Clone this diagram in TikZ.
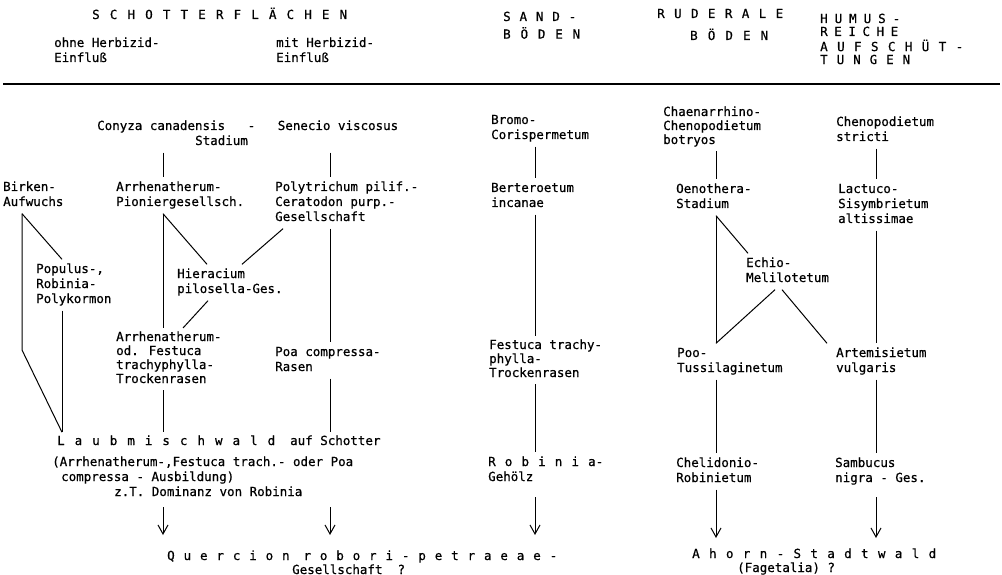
\documentclass[tikz,border=0pt]{standalone}
\usepackage{fontspec}
\setmainfont{DejaVu Sans Mono}
\newfontfamily\tw{DejaVu Sans Mono}[FakeBold=0.6]
\usetikzlibrary{arrows.meta}
\newcommand\lsitems[1]{\lsfirst#1\relax}
\def\lsfirst#1{#1\lsnext}
\def\lsnext#1{\ifx\relax#1\else\hfill#1\expandafter\lsnext\fi}
\newcommand\spread[2]{\makebox[#1][l]{\lsitems{#2}}}
\newcommand\lines[1]{\begin{tabular}[t]{@{}l@{}}#1\end{tabular}}
\begin{document}
\begin{tikzpicture}[x=1pt,y=-1pt,
  every node/.style={inner xsep=0pt, inner ysep=3pt, anchor=base west,
    font=\tw\fontsize{12.5}{15}\selectfont},
  tight/.style={font=\tw\fontsize{12.5}{14}\selectfont},
  humus/.style={font=\tw\fontsize{12.5}{12.3}\selectfont},
  ln/.style={line width=1pt},
  arr/.style={line width=1pt, -{Straight Barb[length=9pt,width=10pt]}, shorten >=12pt}]
\fill[white] (0,0) rectangle (1002,575);
\useasboundingbox (0,0) rectangle (1002,575);
% header
\node (head) at (92,19) {\spread{255pt}{SCHOTTERFLÄCHEN}};
\node (ohne) at (54,47) {\lines{ohne Herbizid-\\Einfluß}};
\node (mit) at (276,47) {\lines{mit Herbizid-\\Einfluß}};
\node (sand) at (503,21) [tight] {\lines{\spread{73pt}{SAND-}\\[2pt]\spread{77pt}{BÖDEN}}};
\node (rud) at (657,18) {\spread{126pt}{RUDERALE}};
\node (rudb) at (690,40) {\spread{78pt}{BÖDEN}};
\node (humus) at (820,23) [humus] {\lines{\spread{80pt}{HUMUS-}\\\spread{78pt}{REICHE}\\\spread{143pt}{AUFSCHÜT-}\\\spread{90pt}{TUNGEN}}};
\draw[line width=1.3pt] (3,84) -- (1000,84);
% left group
\node (conyza) at (97,130) {\lines{Conyza canadensis\ \ \ -\ \ \ Senecio viscosus\\\hspace*{98pt}Stadium}};
\node (birken) at (3,191) {\lines{Birken-\\Aufwuchs}};
\node (arrh) at (116,191) {\lines{Arrhenatherum-\\Pioniergesellsch.}};
\node (poly) at (275,191) {\lines{Polytrichum pilif.-\\Ceratodon purp.-\\Gesellschaft}};
\node (populus) at (36,273) {\lines{Populus-,\\Robinia-\\Polykormon}};
\node (hier) at (177,278) {\lines{Hieracium\\pilosella-Ges.}};
\node (arrhod) at (116,341) [tight] {\lines{Arrhenatherum-\\od. Festuca\\trachyphylla-\\Trockenrasen}};
\node (poa) at (275,356) {\lines{Poa compressa-\\Rasen}};
\node (laub) at (57,445) {\spread{218pt}{Laubmischwald}\hspace{15pt}auf Schotter};
\node (laubsub) at (52,466) {\lines{(Arrhenatherum-,Festuca trach.- oder Poa\\\hspace*{9pt}compressa - Ausbildung)\\\hspace*{62pt}z.T. Dominanz von Robinia}};
% sand column
\node (bromo) at (491,124) {\lines{Bromo-\\Corispermetum}};
\node (bert) at (491,192) {\lines{Berteroetum\\incanae}};
\node (fest) at (489,349) [tight] {\lines{Festuca trachy-\\phylla-\\Trockenrasen}};
\node (rob) at (488,466) {\lines{\spread{115pt}{Robini{a-}}\\Gehölz}};
% ruderal column
\node (chaen) at (663,116) [tight] {\lines{Chaenarrhino-\\Chenopodietum\\botryos}};
\node (oeno) at (676,193) {\lines{Oenothera-\\Stadium}};
\node (echio) at (746,267) {\lines{Echio-\\Melilotetum}};
\node (poo) at (677,357) {\lines{Poo-\\Tussilaginetum}};
\node (chel) at (676,467) {\lines{Chelidonio-\\Robinietum}};
% humus column
\node (cheno) at (836,126) {\lines{Chenopodietum\\stricti}};
\node (lact) at (838,193) {\lines{Lactuco-\\Sisymbrietum\\altissimae}};
\node (art) at (836,357) {\lines{Artemisietum\\vulgaris}};
\node (samb) at (835,467) {\lines{Sambucus\\nigra - Ges.}};
% final communities
\node (querc) at (167,560) [tight] {\lines{\spread{390pt}{Querci{o}{n\kern5pt}robori-petraeae-}\\\hspace*{125pt}Gesellschaft\ \ ?}};
\node (ahorn) at (692,558) [tight] {\lines{\spread{244pt}{Ahorn-Stadtwald}\\\hspace*{45pt}(Fagetalia) ?}};
% connectors left
\draw[ln] (163,0 |- conyza.south) -- (163,0 |- arrh.north);
\draw[ln] (330,0 |- conyza.south) -- (330,0 |- poly.north);
\draw[ln] (22,0 |- birken.south) -- (62,0 |- populus.north);
\draw[ln] (22,0 |- birken.south) -- (22,350) -- (62,0 |- laub.north);
\draw[ln] (62,0 |- populus.south) -- (62,0 |- laub.north);
\draw[ln] (163,0 |- arrh.south) -- (207,0 |- hier.north);
\draw[ln] (163,0 |- arrh.south) -- (163,0 |- arrhod.north);
\draw[ln] (283,0 |- poly.south) -- (242,0 |- hier.north);
\draw[ln] (330,0 |- poly.south) -- (330,0 |- poa.north);
\draw[ln] (208,0 |- hier.south) -- (183,0 |- arrhod.north);
\draw[ln] (163,0 |- arrhod.south) -- (163,0 |- laub.north);
\draw[ln] (330,0 |- poa.south) -- (330,0 |- laub.north);
% connectors sand
\draw[ln] (535,0 |- bromo.south) -- (535,0 |- bert.north);
\draw[ln] (535,0 |- bert.south) -- (535,0 |- fest.north);
\draw[ln] (535,0 |- fest.south) -- (535,0 |- rob.north);
% connectors ruderal
\draw[ln] (716,0 |- chaen.south) -- (716,0 |- oeno.north);
\draw[ln] (716,0 |- oeno.south) -- (748,0 |- echio.north);
\draw[ln] (716,0 |- oeno.south) -- (716,0 |- poo.north);
\draw[ln] (775,0 |- echio.south) -- (716,0 |- poo.north);
\draw[ln] (782,0 |- echio.south) -- (827,0 |- art.north);
\draw[ln] (716,0 |- poo.south) -- (716,0 |- chel.north);
% connectors humus
\draw[ln] (876,0 |- cheno.south) -- (876,0 |- lact.north);
\draw[ln] (876,0 |- lact.south) -- (876,0 |- art.north);
\draw[ln] (876,0 |- art.south) -- (876,0 |- samb.north);
% arrows
\draw[arr, shorten <=3.5pt] (163,0 |- laubsub.south) -- (163,0 |- querc.north);
\draw[arr, shorten <=3.5pt] (330,0 |- laubsub.south) -- (330,0 |- querc.north);
\draw[arr, shorten <=8.5pt] (535,0 |- rob.south) -- (535,0 |- querc.north);
\draw[arr, shorten >=7pt] (716,0 |- chel.south) -- (716,0 |- ahorn.north);
\draw[arr, shorten <=7.5pt, shorten >=7pt] (876,0 |- samb.south) -- (876,0 |- ahorn.north);
\end{tikzpicture}
\end{document}
